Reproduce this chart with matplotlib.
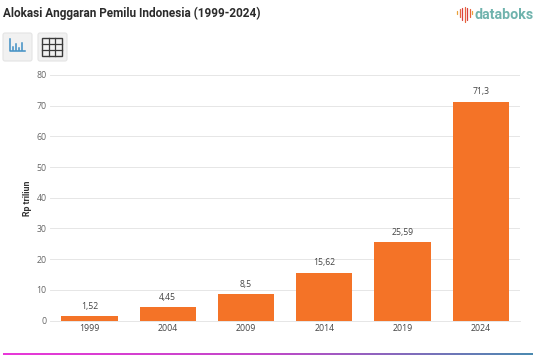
#!/usr/bin/env python3
"""Alokasi anggaran pemilu bar chart, databoks style."""
import matplotlib
matplotlib.use("Agg")
import matplotlib.pyplot as plt
import numpy as np
from matplotlib.colors import LinearSegmentedColormap
from matplotlib.patches import FancyBboxPatch, Rectangle

plt.rcParams["font.family"] = ["Roboto", "DejaVu Sans"]

W, H = 537, 360
TICK_FONT = ["Open Sans", "DejaVu Sans"]

YEARS = ["1999", "2004", "2009", "2014", "2019", "2024"]
VALUES = [1.52, 4.45, 8.5, 15.62, 25.59, 71.3]
VALUE_LABELS = ["1,52", "4,45", "8,5", "15,62", "25,59", "71,3"]
Y_TICKS = [0, 10, 20, 30, 40, 50, 60, 70, 80]

LOGO_TOPS = [11, 9, 8, 7, 8, 9, 11]
LOGO_BOTTOMS = [14, 17, 20, 22, 20, 17, 14]
LOGO_COLORS = ["#e9a23b", "#e8643c", "#d9403f", "#e8643c", "#d9403f", "#e8643c", "#e9a23b"]

fig = plt.figure(figsize=(W / 100, H / 100), dpi=100, facecolor="white")

# chart area
ax = fig.add_axes([50.3 / W, 1 - 320.5 / H, (520 - 50.3) / W, (320.5 - 75) / H])
x = np.arange(len(YEARS))
ax.bar(x, VALUES, width=0.72, color="#f47327", zorder=3)
for xi, v, lab in zip(x, VALUES, VALUE_LABELS):
    ax.annotate(lab, (xi, v), textcoords="offset points", xytext=(0, 3.8), ha="center",
                va="bottom", fontsize=6.2, color="#444444", zorder=4, family=TICK_FONT)
ax.set_xlim(-0.5, 5.5)
ax.set_ylim(0, 80)
ax.set_xticks(x)
ax.set_xticklabels(YEARS, fontsize=6.3, color="#444444", family=TICK_FONT)
ax.set_yticks(Y_TICKS)
ax.set_yticklabels([str(t) for t in Y_TICKS], fontsize=6.3, color="#666666", family=TICK_FONT)
ax.tick_params(axis="x", length=0, pad=2.5)
ax.tick_params(axis="y", length=0, pad=2.5)
ax.grid(axis="y", color="#e6e6e6", lw=0.7, zorder=0)
ax.set_axisbelow(True)
for s in ("top", "right", "left"):
    ax.spines[s].set_visible(False)
ax.spines["bottom"].set_color("#e6e6e6")
ax.spines["bottom"].set_linewidth(0.7)
ax.set_ylabel("Rp triliun", fontsize=6.3, fontweight="bold", color="#333333", labelpad=3)

# page furniture in pixel coordinates
ov = fig.add_axes([0, 0, 1, 1], facecolor="none", zorder=5)
ov.set_xlim(0, W)
ov.set_ylim(H, 0)
ov.axis("off")

ov.text(3, 13.5, "Alokasi Anggaran Pemilu Indonesia (1999-2024)", fontsize=8.5,
        fontweight="bold", color="#2b2b2b", va="center", ha="left")

# chart / table buttons
for bx in (3, 38):
    ov.add_patch(FancyBboxPatch((bx, 33), 29, 28, boxstyle="round,pad=0,rounding_size=2",
                                fc="#f1f1f1", ec="#e4e4e4", lw=0.8))
ov.plot([10, 10, 25], [39, 51, 51], color="#3f8fc4", lw=1.1)
for bx, top in zip((13, 16, 19, 22), (47, 44, 48, 43)):
    ov.plot([bx, bx], [50, top], color="#3f8fc4", lw=1.1)

ov.add_patch(Rectangle((42, 38), 20, 18, fc="none", ec="#3a3a3a", lw=1.0))
for gx in (48.7, 55.3):
    ov.plot([gx, gx], [38, 56], color="#3a3a3a", lw=0.9)
for gy in (44, 50):
    ov.plot([42, 62], [gy, gy], color="#3a3a3a", lw=0.9)

# logo
for i, (top, bottom, c) in enumerate(zip(LOGO_TOPS, LOGO_BOTTOMS, LOGO_COLORS)):
    lx = 457 + i * 2.5
    ov.plot([lx, lx], [top, bottom], color=c, lw=0.9, solid_capstyle="round")
ov.text(474.5, 15, "databoks", fontsize=10.3, fontweight="bold", color="#6fb3ad",
        va="center", ha="left")

# gradient rule along the bottom
cmap = LinearSegmentedColormap.from_list("rule", ["#e838d8", "#c048c8", "#4a8ab0"])
for gx in range(3, 533):
    ov.add_patch(Rectangle((gx, 352.5), 1.2, 2.0, fc=cmap((gx - 3) / 530), ec="none", antialiased=False))

fig.savefig("out.png", dpi=100, facecolor="white")
plt.close(fig)
